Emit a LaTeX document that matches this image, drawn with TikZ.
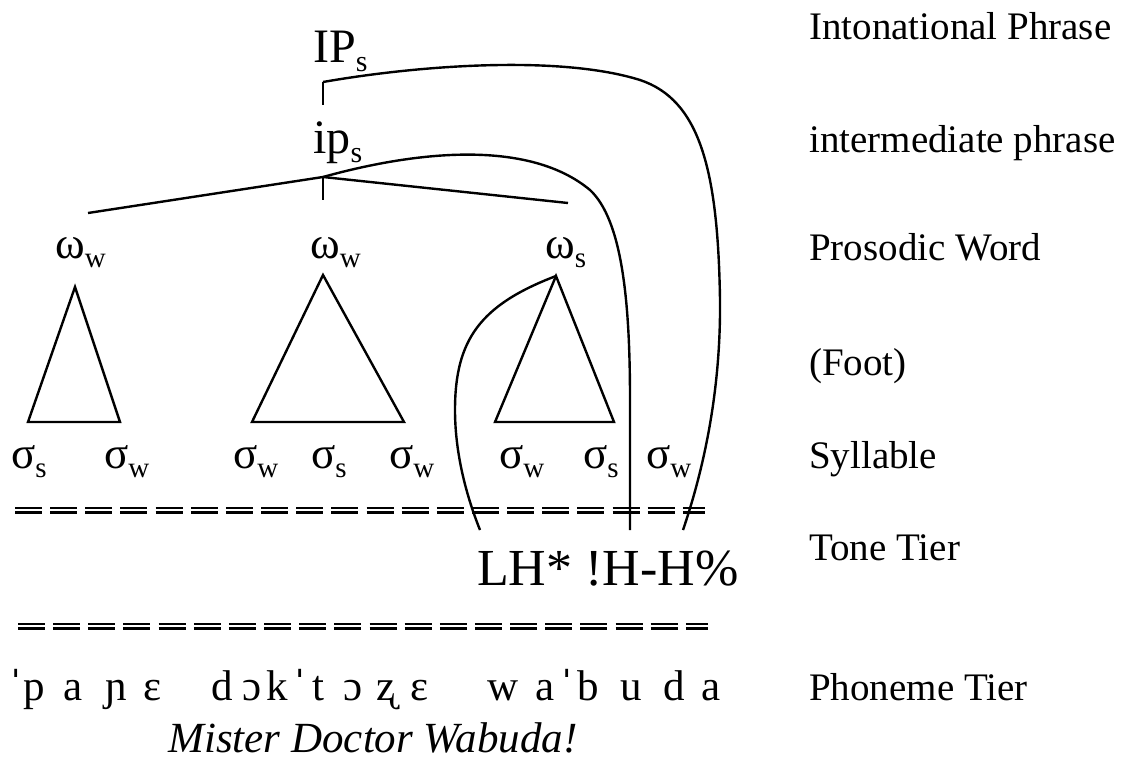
\documentclass[tikz,border=0pt]{standalone}
\usepackage{fontspec}
\setmainfont{Liberation Serif}
\newcommand{\subsc}[1]{\raisebox{-9pt}{\fontsize{30}{30}\selectfont #1}}
\newcommand{\gsub}[1]{\raisebox{-9pt}{\fontsize{29}{30}\selectfont #1}}
\newcommand{\strs}{\raisebox{-5pt}{\fontsize{52}{56}\selectfont ˈ}}
\begin{document}
\begin{tikzpicture}[x=1pt,y=-1pt, line width=2.4pt,
  lbl/.style={anchor=base west, inner sep=0pt, font=\fontsize{39}{44}\selectfont},
  toplbl/.style={anchor=base west, inner sep=0pt, font=\fontsize{48}{54}\selectfont},
  gk/.style={anchor=base west, inner sep=0pt, font=\fontsize{45}{50}\selectfont},
  ph/.style={anchor=base, inner sep=0pt, font=\fontsize{43}{48}\selectfont},
  tone/.style={anchor=base west, inner sep=0pt, font=\fontsize{52}{56}\selectfont},
  link/.style={line width=2.4pt},
  tierline/.style={line width=2.2pt, dash pattern=on 27pt off 8.15pt}]
\useasboundingbox (0,0) rectangle (1123,760);

% right-hand labels
\node[lbl] (L1) at (808,40) {Intonational Phrase};
\node[lbl] (L2) at (808,152) {intermediate phrase};
\node[lbl] (L3) at (808,260) {Prosodic Word};
\node[lbl] (L4) at (808,375) {(Foot)};
\node[lbl] (L5) at (808,468) {Syllable};
\node[lbl] (L6) at (808,560) {Tone Tier};
\node[lbl] (L7) at (808,700) {Phoneme Tier};

% phrase nodes
\node[toplbl] (IP) at (312,63) {IP\subsc{s}};
\node[toplbl] (ip) at (312,153) {ip\subsc{s}};
\coordinate (IPj) at (323,82);
\coordinate (IPk) at (323,105);
\coordinate (ipj) at (323,177);
\coordinate (ipk) at (323,200);

% prosodic words
\node[gk] (w1) at (54,258) {ω\gsub{w}};
\node[gk] (w2) at (309,258) {ω\gsub{w}};
\node[gk] (w3) at (544,258) {ω\gsub{s}};
\coordinate (w1t) at (88,213);
\coordinate (w3t) at (568,203);

% feet (triangles)
\coordinate (t1a) at (75,287);  \coordinate (t1l) at (28,422);  \coordinate (t1r) at (120,422);
\coordinate (t2a) at (323,275); \coordinate (t2l) at (252,422); \coordinate (t2r) at (404,422);
\coordinate (t3a) at (556,276); \coordinate (t3l) at (495,422); \coordinate (t3r) at (614,422);
\draw[link] (t1a) -- (t1l) -- (t1r) -- cycle;
\draw[link] (t2a) -- (t2l) -- (t2r) -- cycle;
\draw[link] (t3a) -- (t3l) -- (t3r) -- cycle;

% syllables
\node[gk] (s1) at (10,468) {σ\gsub{s}};
\node[gk] (s2) at (103,468) {σ\gsub{w}};
\node[gk] (s3) at (232,468) {σ\gsub{w}};
\node[gk] (s4) at (310,468) {σ\gsub{s}};
\node[gk] (s5) at (388,468) {σ\gsub{w}};
\node[gk] (s6) at (498,468) {σ\gsub{w}};
\node[gk] (s7) at (582,468) {σ\gsub{s}};
\node[gk] (s8) at (645,468) {σ\gsub{w}};

% tree lines
\draw[link] (IPj) -- (IPk);
\draw[link] (ipj) -- (ipk);
\draw[link] (w1t) -- (ipj) -- (w3t);

% tier lines
\coordinate (ta1) at (15,508);  \coordinate (ta2) at (705,508);
\coordinate (tb1) at (15,512.5);  \coordinate (tb2) at (705,512.5);
\coordinate (tc1) at (18,624);  \coordinate (tc2) at (708,624);
\coordinate (td1) at (18,628.5);  \coordinate (td2) at (708,628.5);
\draw[tierline] (ta1) -- (ta2);
\draw[tierline] (tb1) -- (tb2);
\draw[tierline] (tc1) -- (tc2);
\draw[tierline] (td1) -- (td2);

% tones
\node[tone] (tones) at (476,585) {LH* !H-H\%};
\coordinate (LHt) at (480,530);
\coordinate (Ht) at (630,530);
\coordinate (HHt) at (683,530);

% association curves
\draw[link] (IPj) .. controls (420,65) and (560,55) .. (640,80)
            .. controls (700,100) and (718,170) .. (720,300)
            .. controls (721,400) and (700,480) .. (HHt);
\draw[link] (ipj) .. controls (420,150) and (530,140) .. (590,190)
            .. controls (622,220) and (630,300) .. (630,400) -- (Ht);
\draw[link] (t3a) .. controls (480,305) and (455,340) .. (455,410)
            .. controls (455,460) and (470,505) .. (LHt);

% phonemes
\foreach \n/\x/\c in {1/16/{\strs},2/34/p,3/73/a,4/116/ɲ,5/153/ɛ,6/222/d,7/252/ɔ,8/277/k,9/300/{\strs},10/318/t,11/353/ɔ,12/386/ʐ,13/420/ɛ,14/503/w,15/545/a,16/567/{\strs},17/588/b,18/631/u,19/674/d,20/711/a}
  \node[ph] (p\n) at (\x,700) {\c};

\node[anchor=base, inner sep=0pt, font=\fontsize{43}{48}\selectfont\itshape] (gloss) at (373,752) {Mister Doctor Wabuda!};
\end{tikzpicture}
\end{document}
